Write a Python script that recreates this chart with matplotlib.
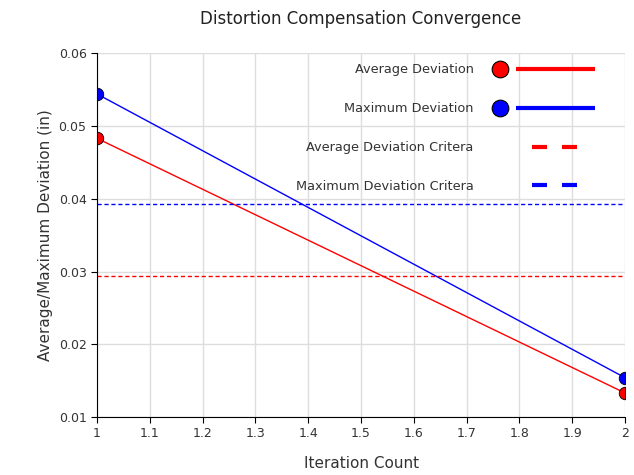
import matplotlib
matplotlib.use("Agg")
import matplotlib.pyplot as plt
from matplotlib.lines import Line2D
from matplotlib.path import Path
from matplotlib.markers import MarkerStyle
from matplotlib.transforms import Affine2D
from matplotlib.legend_handler import HandlerBase
from matplotlib.ticker import FormatStrFormatter, MultipleLocator

iterations = [1, 2]
avg_deviation = [0.0483, 0.0133]
max_deviation = [0.0544, 0.0154]
avg_criteria = 0.0294
max_criteria = 0.0393

labels = ["Average Deviation", "Maximum Deviation",
          "Average Deviation Critera", "Maximum Deviation Critera"]


class MarkerThenLine(HandlerBase):
    # marker on the left, thick line on the right
    def create_artists(self, legend, orig_handle, xdescent, ydescent,
                       width, height, fontsize, trans):
        y = height / 2 - ydescent
        x0 = -xdescent
        color = orig_handle.get_color()
        mk = Line2D([x0 + width * 0.19], [y], marker="o", markersize=12,
                    markerfacecolor=color, markeredgecolor="black",
                    markeredgewidth=0.8, linestyle="none", transform=trans)
        ln = Line2D([x0 + width * 0.33, x0 + width], [y, y], color=color,
                    lw=3, solid_capstyle="butt", transform=trans)
        return [ln, mk]


class ShortDash(HandlerBase):
    def create_artists(self, legend, orig_handle, xdescent, ydescent,
                       width, height, fontsize, trans):
        y = height / 2 - ydescent
        x0 = -xdescent
        ln = Line2D([x0 + width * 0.46, x0 + width * 0.855], [y, y],
                    color=orig_handle.get_color(), lw=3,
                    linestyle=(0, (3.6, 3.6)), dash_capstyle="butt",
                    transform=trans)
        return [ln]


fig = plt.figure(figsize=(6.34, 4.75), dpi=100)
ax = fig.add_axes([0.153, 0.122, 0.833, 0.766])

h1, = ax.plot(iterations, avg_deviation, color="red", lw=1)
h2, = ax.plot(iterations, max_deviation, color="blue", lw=1)

# points sit on the axes edges, so only the inner half of each dot shows
right_half = MarkerStyle(Path.unit_circle_righthalf())
left_half = MarkerStyle(Path.unit_circle_righthalf(),
                        transform=Affine2D().rotate_deg(180))
for ys, c in [(avg_deviation, "red"), (max_deviation, "blue")]:
    ax.scatter(iterations[:1], ys[:1], s=81, marker=right_half, color=c,
               edgecolor="black", linewidth=0.6, zorder=3, clip_on=False)
    ax.scatter(iterations[1:], ys[1:], s=81, marker=left_half, color=c,
               edgecolor="black", linewidth=0.6, zorder=3, clip_on=False)

h3 = ax.axhline(avg_criteria, color="red", lw=1, linestyle=(0, (3, 2)))
h4 = ax.axhline(max_criteria, color="blue", lw=1, linestyle=(0, (3, 2)))

ax.set_xlim(1, 2)
ax.set_ylim(0.01, 0.06)
ax.xaxis.set_major_locator(MultipleLocator(0.1))
ax.yaxis.set_major_locator(MultipleLocator(0.01))
ax.xaxis.set_major_formatter(FormatStrFormatter("%g"))
ax.yaxis.set_major_formatter(FormatStrFormatter("%.2f"))
ax.grid(True, color="#dddddd", lw=1)
ax.set_axisbelow(True)
for s in ["top", "right"]:
    ax.spines[s].set_visible(False)
ax.tick_params(labelsize=9, colors="#333333", length=4)
ax.tick_params(axis="both", color="black")

ax.set_title("Distortion Compensation Convergence", fontsize=12,
             color="#222222", pad=21)
ax.set_xlabel("Iteration Count", fontsize=11, color="#333333", labelpad=11)
ax.set_ylabel("Average/Maximum Deviation (in)", fontsize=11, color="#333333")

ax.legend([h1, h2, h3, h4], labels, loc="upper right",
          bbox_to_anchor=(0.943, 0.972), frameon=False, markerfirst=False,
          fontsize=9.3, labelspacing=2.0, handlelength=9.1, handletextpad=0.3,
          borderpad=0, borderaxespad=0,
          handler_map={h1: MarkerThenLine(), h2: MarkerThenLine(),
                       h3: ShortDash(), h4: ShortDash()},
          labelcolor="#333333")

fig.savefig("out.png", dpi=100)
